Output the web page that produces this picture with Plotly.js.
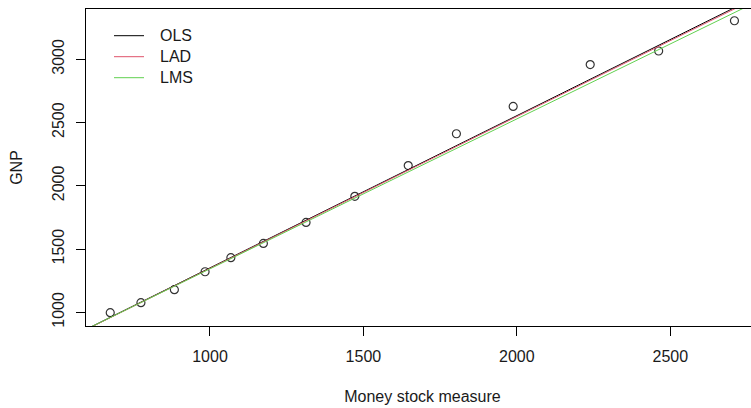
<!DOCTYPE html>
<html>
<head>
<meta charset="utf-8">
<script src="https://cdn.plot.ly/plotly-3.0.1.min.js"></script>
<style>
html, body { margin: 0; padding: 0; overflow: hidden; background: #fff; width: 751px; height: 408px; }
#chart { width: 800px; height: 408px; }
</style>
</head>
<body>
<div id="chart"></div>
<script>
// Data
const moneyStock = [675, 775, 884, 984, 1068, 1174, 1313, 1472, 1646, 1803, 1988, 2239, 2462, 2709];
const gnp        = [997, 1076, 1179, 1321, 1432, 1545, 1711, 1917, 2160, 2412, 2628, 2959, 3066, 3305];

// Fitted lines (intercept, slope)
const fitNames      = ["OLS", "LAD", "LMS"];
const fitIntercepts = [148, 147.5, 158.6];
const fitSlopes     = [1.2035, 1.2002, 1.1853];
const fitColors     = ["#000000", "#DF536B", "#61D04F"];

const xRange = [596, 2789];
const yRange = [892, 3398];
const xTicks = [1000, 1500, 2000, 2500];
const yTicks = [1000, 1500, 2000, 2500, 3000];

const FONT = "Arial, 'Liberation Sans', sans-serif";
const TXT = "#1a1a1a";

// plot area geometry in pixels (for the legend placed like R's legend())
const M = { l: 86, r: 41, t: 9, b: 82 };
const W = 800, H = 408;
const plotW = W - M.l - M.r, plotH = H - M.t - M.b;
const px = v => (v - M.l) / plotW;
const py = v => (H - M.b - v) / plotH;

const traces = [{
  x: moneyStock, y: gnp, type: "scatter", mode: "markers",
  marker: { symbol: "circle-open", size: 8, color: "#333333", line: { width: 1.2, color: "#333333" } },
  showlegend: false, hoverinfo: "skip"
}];

fitNames.forEach((name, i) => {
  traces.push({
    x: xRange,
    y: xRange.map(v => fitIntercepts[i] + fitSlopes[i] * v),
    type: "scatter", mode: "lines", name: name,
    line: { color: fitColors[i], width: 1 },
    showlegend: false
  });
});

const shapes = [], annotations = [];
fitNames.forEach((name, i) => {
  const yy = 35.7 + 21 * i;
  shapes.push({
    type: "line", xref: "paper", yref: "paper",
    x0: px(114), x1: px(144), y0: py(yy), y1: py(yy),
    line: { color: fitColors[i], width: 1 }
  });
  annotations.push({
    xref: "paper", yref: "paper", x: px(158), y: py(yy),
    xanchor: "left", yanchor: "middle", showarrow: false,
    text: name, font: { family: FONT, size: 16, color: TXT }
  });
});

const layout = {
  width: W, height: H,
  margin: { l: M.l, r: M.r, t: M.t, b: M.b, pad: 0 },
  paper_bgcolor: "#fff", plot_bgcolor: "#fff",
  font: { family: FONT, size: 16, color: TXT },
  showlegend: false,
  shapes: shapes,
  annotations: annotations,
  xaxis: {
    range: xRange, tickvals: xTicks, ticktext: xTicks.map(String),
    showgrid: false, zeroline: false,
    showline: true, linecolor: "#000", linewidth: 1, mirror: true,
    ticks: "outside", ticklen: 9, tickcolor: "#000", tickwidth: 1,
    ticklabelstandoff: 7,
    tickfont: { family: FONT, size: 16, color: TXT },
    title: { text: "Money stock measure", font: { family: FONT, size: 16, color: TXT }, standoff: 26 }
  },
  yaxis: {
    range: yRange, tickvals: yTicks, ticktext: yTicks.map(String),
    tickangle: -90,
    showgrid: false, zeroline: false,
    showline: true, linecolor: "#000", linewidth: 1, mirror: false,
    ticks: "outside", ticklen: 9, tickcolor: "#000", tickwidth: 1,
    ticklabelstandoff: 6,
    tickfont: { family: FONT, size: 16, color: TXT },
    title: { text: "GNP", font: { family: FONT, size: 16, color: TXT }, standoff: 22 }
  }
};

Plotly.newPlot("chart", traces, layout, { staticPlot: true, displayModeBar: false });
</script>
</body>
</html>
